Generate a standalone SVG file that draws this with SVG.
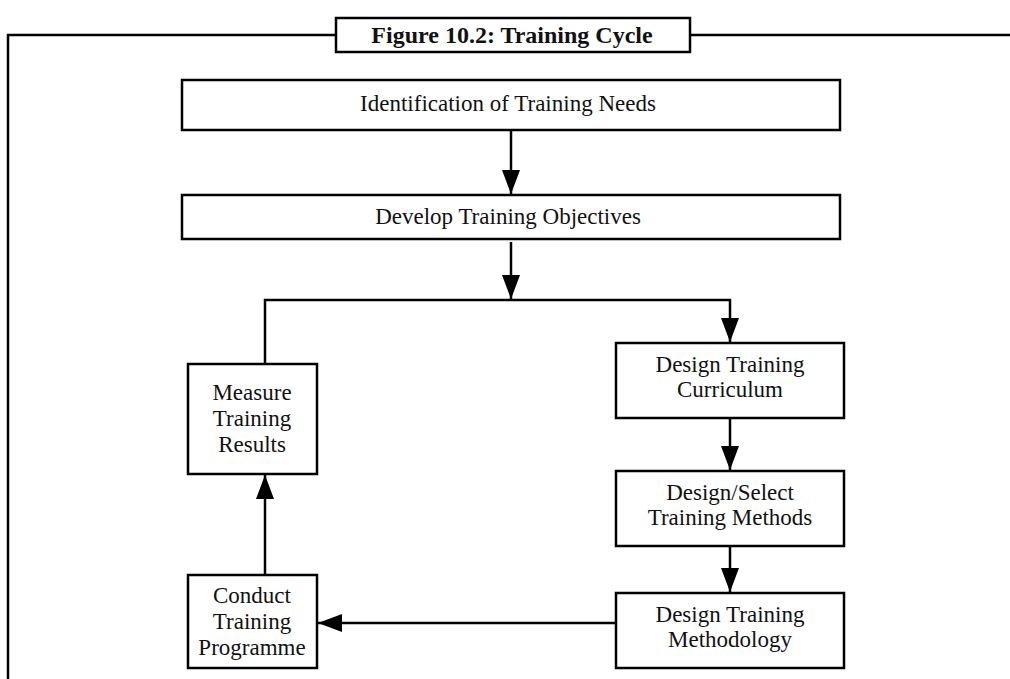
<svg xmlns="http://www.w3.org/2000/svg" width="1010" height="679" viewBox="0 0 1010 679">
<style>
.box{fill:#fff;stroke:#000;stroke-width:2.5}
.t{font-family:"Liberation Serif","Times New Roman",serif;font-size:23px;fill:#111;text-anchor:middle}
.title{font-family:"Liberation Serif","Times New Roman",serif;font-size:24px;font-weight:bold;fill:#111;text-anchor:middle}
.c{fill:none;stroke:#000;stroke-width:2.5}
</style>
<defs>
<marker id="ahb" markerWidth="24" markerHeight="18" refX="24" refY="9" orient="auto" markerUnits="userSpaceOnUse">
<path d="M0,0 L24,9 L0,18 Z" fill="#000"/>
</marker>
</defs>
<rect width="1010" height="679" fill="#fff"/>
<g id="frame">
<path class="c" d="M8,679 V35 H336 M690,35 H1010"/>
</g>
<g id="title">
<rect class="box" x="336" y="18" width="354" height="34"/>
<text class="title" x="512" y="43">Figure 10.2: Training Cycle</text>
</g>
<g id="connectors">
<line class="c" x1="511" y1="130" x2="511" y2="194" marker-end="url(#ahb)"/>
<line class="c" x1="511" y1="242" x2="511" y2="299" marker-end="url(#ahb)"/>
<path class="c" d="M265,364 V300 H730 V342" marker-end="url(#ahb)"/>
<line class="c" x1="730" y1="418" x2="730" y2="470" marker-end="url(#ahb)"/>
<line class="c" x1="730" y1="546" x2="730" y2="592" marker-end="url(#ahb)"/>
<line class="c" x1="616" y1="623" x2="318" y2="623" marker-end="url(#ahb)"/>
<line class="c" x1="265" y1="575" x2="265" y2="475" marker-end="url(#ahb)"/>
</g>
<g id="n1">
<rect class="box" x="182" y="80" width="658" height="50"/>
<text class="t" x="508" y="111">Identification of Training Needs</text>
</g>
<g id="n2">
<rect class="box" x="182" y="195" width="658" height="44"/>
<text class="t" x="508" y="224">Develop Training Objectives</text>
</g>
<g id="n3">
<rect class="box" x="616" y="343" width="228" height="75"/>
<text class="t" x="730" y="372">Design Training</text>
<text class="t" x="730" y="397">Curriculum</text>
</g>
<g id="n4">
<rect class="box" x="616" y="471" width="228" height="75"/>
<text class="t" x="730" y="500">Design/Select</text>
<text class="t" x="730" y="525">Training Methods</text>
</g>
<g id="n5">
<rect class="box" x="616" y="593" width="228" height="75"/>
<text class="t" x="730" y="622">Design Training</text>
<text class="t" x="730" y="647">Methodology</text>
</g>
<g id="n6">
<rect class="box" x="188" y="575" width="129" height="93"/>
<text class="t" x="252" y="603">Conduct</text>
<text class="t" x="252" y="629">Training</text>
<text class="t" x="252" y="655">Programme</text>
</g>
<g id="n7">
<rect class="box" x="188" y="364" width="129" height="110"/>
<text class="t" x="252" y="400">Measure</text>
<text class="t" x="252" y="426">Training</text>
<text class="t" x="252" y="452">Results</text>
</g>
</svg>
